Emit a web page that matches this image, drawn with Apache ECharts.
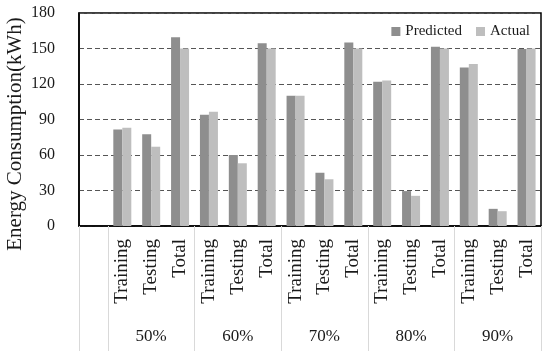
<!DOCTYPE html>
<html>
<head>
<meta charset="utf-8">
<script src="https://cdn.jsdelivr.net/npm/echarts@6/dist/echarts.min.js"></script>
<style>html,body{margin:0;padding:0;background:#fff}#c{width:550px;height:354px}</style>
</head>
<body>
<div id="c"></div>
<script>
var groups = ['50%', '60%', '70%', '80%', '90%'];
var subCats = ['Training', 'Testing', 'Total'];
var predicted = [null, 81.5, 77.5, 159.5, 94, 60, 154.5, 110, 45, 155, 122, 29.5, 151.5, 134, 14.5, 149.5];
var actual = [null, 83, 67, 150, 96.5, 53, 150, 110, 39.5, 150, 123, 25.5, 150, 137, 12.5, 150];
var yTicks = [0, 30, 60, 90, 120, 150, 180];

var categories = [''];
var groupLabels = [''];
groups.forEach(function (g) {
  subCats.forEach(function (s, j) {
    categories.push(s);
    groupLabels.push(j === 1 ? g : '');
  });
});

var FONT = '"Liberation Serif", "Times New Roman", serif';
var chart = echarts.init(document.getElementById('c'));
chart.setOption({
  animation: false,
  textStyle: { fontFamily: FONT, color: '#1a1a1a' },
  grid: { left: 79, right: 9, top: 13, bottom: 128, show: true, borderColor: '#000', borderWidth: 1.5, backgroundColor: 'transparent' },
  legend: {
    right: 15, top: 19, icon: 'rect', itemWidth: 9, itemHeight: 9, itemGap: 14,
    textStyle: { fontFamily: FONT, fontSize: 15, color: '#1a1a1a' },
    data: ['Predicted', 'Actual']
  },
  graphic: [{
    type: 'text', x: 15, y: 134, rotation: Math.PI / 2,
    style: { text: 'Energy Consumption(kWh)', font: '21px ' + FONT, fill: '#1a1a1a', align: 'center', verticalAlign: 'middle' }
  }],
  xAxis: [{
    type: 'category', data: categories, gridIndex: 0, position: 'bottom',
    axisLine: { lineStyle: { color: '#000', width: 1.5 } },
    axisTick: { show: false },
    axisLabel: { rotate: 90, interval: 0, margin: 13, fontSize: 19, fontFamily: FONT, color: '#1a1a1a' }
  }, {
    type: 'category', data: groupLabels, gridIndex: 0, position: 'bottom',
    axisLine: { show: false },
    axisTick: {
      show: true, length: 125, lineStyle: { color: '#d9d9d9', width: 1 },
      interval: function (i) { return i === 0 || (i >= 1 && (i - 1) % 3 === 0) || i >= 16; }
    },
    axisLabel: { interval: 0, margin: 102, fontSize: 17, fontFamily: FONT, color: '#1a1a1a' }
  }],
  yAxis: {
    type: 'value', min: yTicks[0], max: yTicks[yTicks.length - 1], interval: yTicks[1] - yTicks[0],
    axisLine: { show: true, lineStyle: { color: '#000', width: 1.5 } },
    axisTick: { show: false },
    axisLabel: { margin: 24, fontSize: 16, fontFamily: FONT, color: '#1a1a1a' },
    splitLine: { lineStyle: { color: '#555', type: [5, 3], width: 1 } }
  },
  series: [{
    name: 'Predicted', type: 'bar', data: predicted, barWidth: 9, barGap: '0%',
    itemStyle: { color: '#8e8e8e' }
  }, {
    name: 'Actual', type: 'bar', data: actual, barWidth: 9, barGap: '0%',
    itemStyle: { color: '#bebebe' }
  }]
});
</script>
</body>
</html>
